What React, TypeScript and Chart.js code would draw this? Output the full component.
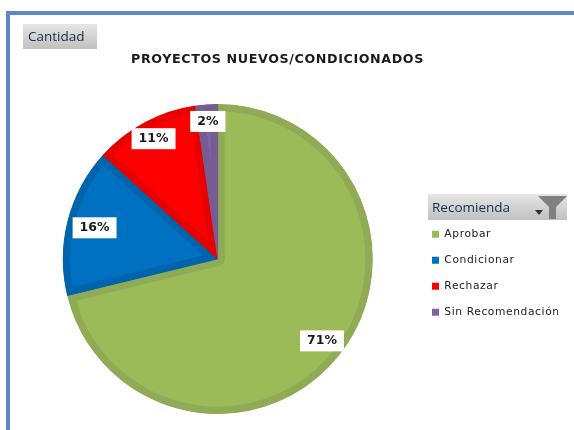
import React, { useEffect, useRef } from "react";
import { Chart, registerables } from "chart.js";

Chart.register(...registerables);

const categories = ["Aprobar", "Condicionar", "Rechazar", "Sin Recomendación"];
const shares = [71.2, 15.5, 11.0, 2.3];
const fills = ["#9BBB59", "#0070C0", "#FF0000", "#8064A2"];
const edges = ["#8FAB56", "#0064AC", "#E60000", "#755C93"];
const labelRadii = [0.855, 0.82, 0.88, 0.89];
const chartTitle = "PROYECTOS NUEVOS/CONDICIONADOS";
const fieldLabel = "Cantidad";
const legendLabel = "Recomienda";
const tracking = "0.6px";

function button(ctx: CanvasRenderingContext2D, x: number, y: number, w: number, h: number) {
  const g = ctx.createLinearGradient(0, y, 0, y + h);
  g.addColorStop(0, "#E6E6E6");
  g.addColorStop(1, "#C0C0C0");
  ctx.fillStyle = g;
  ctx.fillRect(x, y, w, h);
}

const decor = {
  id: "decor",
  beforeLayout(chart: any) {
    chart.ctx.letterSpacing = tracking;
  },
  afterLayout(chart: any) {
    const t = chart.titleBlock;
    const d = (t.left + t.right) / 2 - 277.5;
    t.left -= d;
    t.right -= d;
    const l = chart.legend;
    const pad = l.options.labels.padding;
    const h = l.height;
    const w = l.width;
    l.top = 213.6;
    l.bottom = l.top + h;
    l.left = 432 - pad;
    l.right = l.left + w;
  },
  beforeDraw(chart: any) {
    const ctx: CanvasRenderingContext2D = chart.ctx;
    (ctx as any).letterSpacing = "0px";
    ctx.save();
    ctx.fillStyle = "#FFFFFF";
    ctx.fillRect(0, 0, chart.width, chart.height);
    ctx.fillStyle = "#5B8AC6";
    ctx.fillRect(6, 11, chart.width - 6, 4);
    ctx.fillRect(6, 11, 4, chart.height - 11);
    button(ctx, 23, 24, 74, 25);
    ctx.fillStyle = "#1F2A44";
    ctx.font = '13.5px "Open Sans"';
    ctx.textBaseline = "middle";
    ctx.fillText(fieldLabel, 28, 37);
    button(ctx, 428, 194, 139, 26);
    ctx.fillStyle = "#1F2A44";
    ctx.fillText(legendLabel, 432, 208);
    ctx.fillStyle = "#808080";
    ctx.beginPath();
    ctx.moveTo(538, 196);
    ctx.lineTo(567, 196);
    ctx.lineTo(556, 207);
    ctx.lineTo(556, 219);
    ctx.lineTo(549, 219);
    ctx.lineTo(549, 207);
    ctx.closePath();
    ctx.fill();
    ctx.fillStyle = "#333333";
    ctx.beginPath();
    ctx.moveTo(535, 210);
    ctx.lineTo(543, 210);
    ctx.lineTo(539, 215);
    ctx.closePath();
    ctx.fill();
    ctx.restore();
    (ctx as any).letterSpacing = tracking;
  },
  afterDatasetsDraw(chart: any) {
    const ctx: CanvasRenderingContext2D = chart.ctx;
    const arcs = chart.getDatasetMeta(0).data;
    (ctx as any).letterSpacing = "0px";
    ctx.save();
    ctx.font = 'bold 12.5px "DejaVu Sans"';
    ctx.textAlign = "center";
    ctx.textBaseline = "middle";
    arcs.forEach((arc: any, i: number) => {
      const mid = (arc.startAngle + arc.endAngle) / 2;
      const r = arc.outerRadius * labelRadii[i];
      const x = arc.x + Math.cos(mid) * r;
      const y = arc.y + Math.sin(mid) * r;
      const text = Math.round(shares[i]) + "%";
      const w = ctx.measureText(text).width + 14;
      ctx.fillStyle = "#FFFFFF";
      ctx.fillRect(x - w / 2, y - 10.5, w, 21);
      ctx.fillStyle = "#1A1A1A";
      ctx.fillText(text, x, y);
    });
    ctx.restore();
  },
};

export default function App() {
  const ref = useRef<HTMLCanvasElement>(null);
  useEffect(() => {
    document.body.style.margin = "0";
    const chart = new Chart(ref.current!, {
      type: "pie",
      data: {
        labels: categories,
        datasets: [
          {
            data: shares,
            backgroundColor: fills,
            borderColor: edges,
            borderWidth: 7,
            borderAlign: "inner",
            hoverOffset: 0,
          },
        ],
      },
      plugins: [decor],
      options: {
        responsive: false,
        animation: false,
        layout: { padding: { left: 14.5, right: 0, top: 0, bottom: 16 } },
        plugins: {
          tooltip: { enabled: false },
          title: {
            display: true,
            text: chartTitle,
            color: "#1A1A1A",
            font: { family: '"DejaVu Sans"', size: 12.7, weight: "bold" },
            padding: { top: 52.4, bottom: 36.4 },
          },
          legend: {
            position: "right",
            align: "start",
            labels: {
              boxWidth: 7,
              boxHeight: 7,
              padding: 15.3,
              color: "#222222",
              font: { family: '"DejaVu Sans"', size: 10.7 },
              generateLabels: (c: any) =>
                (Chart as any).overrides.pie.plugins.legend.labels
                  .generateLabels(c)
                  .map((item: any) => ({ ...item, lineWidth: 0 })),
            },
          },
        },
      },
    });
    return () => chart.destroy();
  }, []);
  return <canvas ref={ref} width={574} height={430} style={{ display: "block" }} />;
}
